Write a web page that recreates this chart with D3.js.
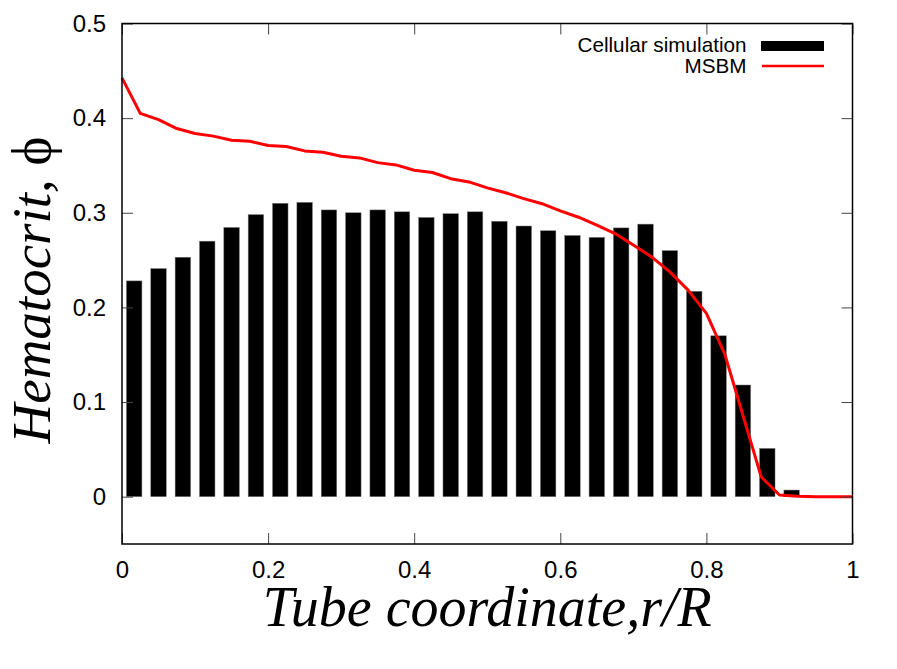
<!DOCTYPE html>
<html>
<head>
<meta charset="utf-8">
<script src="https://cdn.jsdelivr.net/npm/d3@7"></script>
<style>
  body { margin: 0; background: #fff; }
  svg { display: block; }
</style>
</head>
<body>
<div id="chart"></div>
<script>
// Cellular simulation: hematocrit per radial bin (30 bins over r/R in [0,1])
const binCount = 30;
const cellHct = [0.228, 0.241, 0.253, 0.270, 0.2845, 0.298, 0.310, 0.311, 0.303, 0.300,
    0.303, 0.301, 0.295, 0.299, 0.301, 0.291, 0.286, 0.281, 0.276, 0.274,
    0.284, 0.288, 0.260, 0.217, 0.170, 0.118, 0.051, 0.007];

// MSBM profile, sampled every 0.025
const msbmR = [0, 0.025, 0.05, 0.075, 0.1, 0.125, 0.15, 0.175, 0.2, 0.225,
    0.25, 0.275, 0.3, 0.325, 0.35, 0.375, 0.4, 0.425, 0.45, 0.475,
    0.5, 0.525, 0.55, 0.575, 0.6, 0.625, 0.65, 0.675, 0.7, 0.725,
    0.75, 0.775, 0.8, 0.825, 0.85, 0.875, 0.9, 0.925, 0.95, 0.975, 1.0];
const msbmHct = [0.4425, 0.405, 0.3985, 0.389, 0.3837, 0.381, 0.3767, 0.3756, 0.371, 0.370,
    0.3654, 0.364, 0.3598, 0.358, 0.353, 0.3506, 0.345, 0.3426, 0.336, 0.3326,
    0.3263, 0.3212, 0.315, 0.3096, 0.302, 0.2953, 0.287, 0.278, 0.266, 0.2534,
    0.2376, 0.2183, 0.1937, 0.151, 0.086, 0.021, 0.0018, 0.0005, 0, 0, 0];

const xTicks = [0, 0.2, 0.4, 0.6, 0.8, 1];
const yTicks = [0, 0.1, 0.2, 0.3, 0.4, 0.5];
const legendLabels = ["Cellular simulation", "MSBM"];

const width = 897, height = 669;
const margin = {top: 23.5, right: 44.5, bottom: 125, left: 122};
const w = width - margin.left - margin.right,
    h = height - margin.top - margin.bottom;

const svg = d3.select("#chart")
    .append("svg")
    .attr("width", width)
    .attr("height", height);

const g = svg.append("g")
    .attr("transform", "translate(" + margin.left + "," + margin.top + ")");

const x = d3.scaleLinear().domain([0, 1]).range([0, w]);
const y = d3.scaleLinear().domain([-0.05, 0.5]).range([h, 0]);

// bars
const barWidth = 0.0212;
g.selectAll("rect.bar")
    .data(cellHct)
    .enter()
    .append("rect")
    .attr("class", "bar")
    .attr("x", function (d, i) { return x((i + 0.5) / binCount - barWidth / 2); })
    .attr("width", x(barWidth) - x(0))
    .attr("y", function (d) { return y(d); })
    .attr("height", function (d) { return y(0) - y(d); })
    .style("fill", "#000")
    .style("stroke", "#777")
    .style("stroke-width", 0.5);

// MSBM line
const msbm = msbmR.map(function (r, i) { return {r: r, v: msbmHct[i]}; });
g.append("path")
    .datum(msbm)
    .attr("d", d3.line()
        .x(function (d) { return x(d.r); })
        .y(function (d) { return y(d.v); }))
    .style("fill", "none")
    .style("stroke", "#ff0000")
    .style("stroke-width", 3)
    .style("stroke-linejoin", "round");

// axes, ticks pointing inward and mirrored
const tickFont = "'Liberation Sans', Arial, sans-serif";
function styleAxis(sel) {
    sel.select(".domain").remove();
    sel.selectAll(".tick line").attr("stroke", "#444").attr("stroke-width", 1);
    sel.selectAll("text")
        .style("font-family", tickFont)
        .style("font-size", "24px")
        .attr("fill", "#000");
}

g.append("g")
    .attr("transform", "translate(0," + h + ")")
    .call(d3.axisBottom(x).tickValues(xTicks).tickSizeInner(-11).tickSizeOuter(0)
        .tickPadding(17).tickFormat(d3.format("~g")))
    .call(styleAxis);
g.append("g")
    .call(d3.axisTop(x).tickValues(xTicks).tickSizeInner(-11).tickSizeOuter(0)
        .tickFormat(""))
    .call(styleAxis);
g.append("g")
    .call(d3.axisLeft(y).tickValues(yTicks).tickSizeInner(-11).tickSizeOuter(0)
        .tickPadding(16).tickFormat(d3.format("~g")))
    .call(styleAxis);
g.append("g")
    .attr("transform", "translate(" + w + ",0)")
    .call(d3.axisRight(y).tickValues(yTicks).tickSizeInner(-11).tickSizeOuter(0)
        .tickFormat(""))
    .call(styleAxis);

// frame
g.append("rect")
    .attr("width", w)
    .attr("height", h)
    .style("fill", "none")
    .style("stroke", "#000")
    .style("stroke-width", 1.5);

// legend
const legend = g.append("g").attr("transform", "translate(" + (746.5 - margin.left) + ",0)");
legend.selectAll("text")
    .data(legendLabels)
    .enter()
    .append("text")
    .attr("x", 0)
    .attr("y", function (d, i) { return 28 + i * 21.5; })
    .attr("text-anchor", "end")
    .style("font-family", tickFont)
    .style("font-size", "20.7px")
    .text(function (d) { return d; });
legend.append("rect")
    .attr("x", 14.5)
    .attr("y", 17.5)
    .attr("width", 63)
    .attr("height", 10)
    .style("fill", "#000");
legend.append("line")
    .attr("x1", 15.5)
    .attr("x2", 77.5)
    .attr("y1", 42.5)
    .attr("y2", 42.5)
    .style("stroke", "#ff0000")
    .style("stroke-width", 2.5);

// axis titles
const titleFont = "'Liberation Serif', 'Times New Roman', serif";
svg.append("text")
    .attr("x", margin.left + w / 2)
    .attr("y", 626)
    .attr("text-anchor", "middle")
    .style("font-family", titleFont)
    .style("font-style", "italic")
    .style("font-size", "56px")
    .text("Tube coordinate,r/R");

const yTitle = svg.append("text")
    .attr("transform", "translate(50,290) rotate(-90)")
    .attr("text-anchor", "middle")
    .style("font-family", titleFont)
    .style("font-size", "55px");
yTitle.append("tspan").style("font-style", "italic").text("Hematocrit, ");
yTitle.append("tspan").style("font-style", "normal").text("ϕ");
</script>
</body>
</html>
